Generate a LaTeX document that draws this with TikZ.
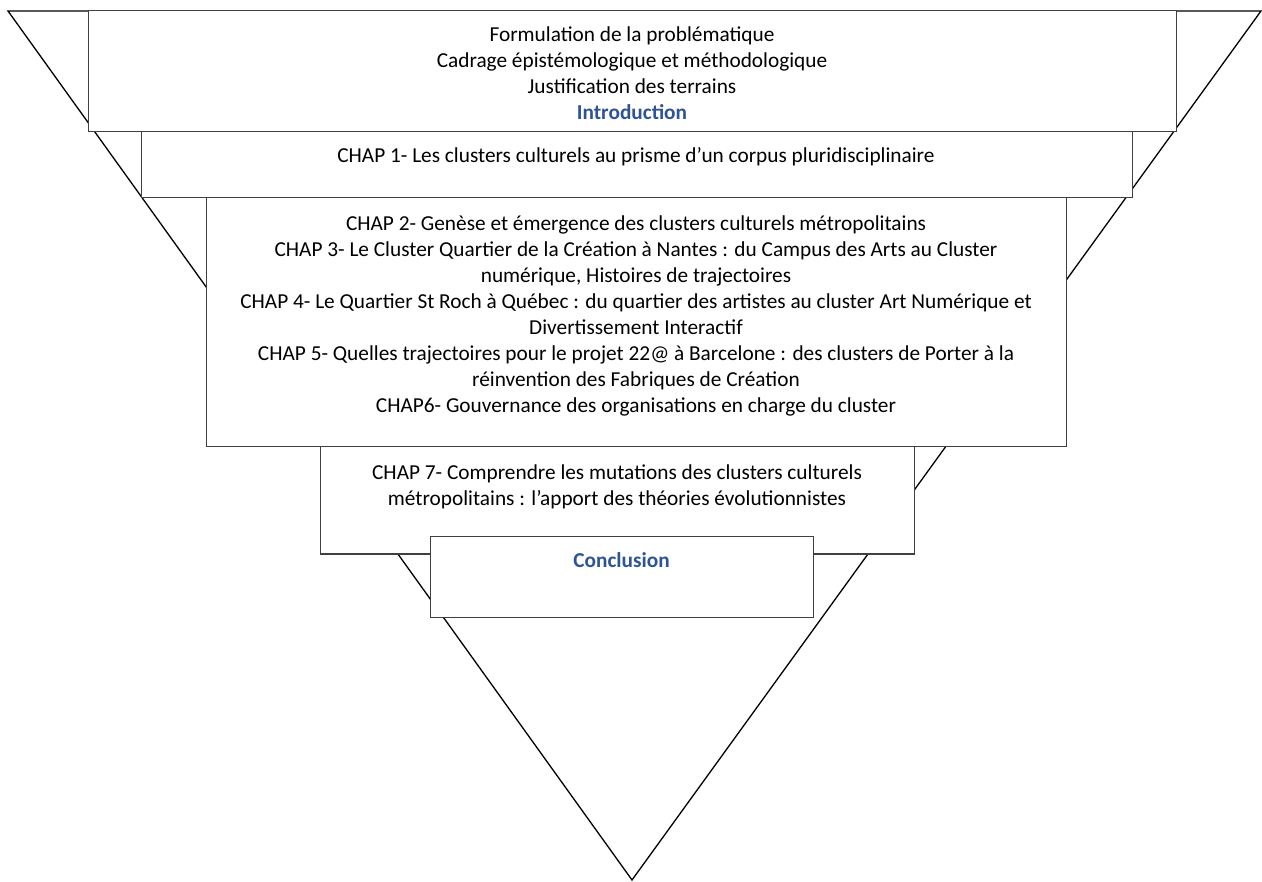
\documentclass[tikz,border=0pt]{standalone}
\usepackage{fontspec}
\setmainfont{Carlito}
\definecolor{headblue}{RGB}{47,84,150}
\begin{document}
\begin{tikzpicture}[x=1pt,y=-1pt,
  box/.style={draw=black!75, line width=1pt, fill=white},
  funnel/.style={draw=black, line width=1.3pt, line join=miter},
  txt/.style={align=center, inner sep=0pt, anchor=base, font=\fontsize{21.3}{26}\selectfont},
  head/.style={txt, font=\bfseries\fontsize{21.3}{26}\selectfont, text=headblue}]
\useasboundingbox (0,0) rectangle (1262,882);
\coordinate (tl) at (8,11);
\coordinate (tr) at (1261,11);
\coordinate (apex) at (632,880);
\draw[funnel] (tl) -- (tr) -- (apex) -- cycle;
\draw[box] (88,11) rectangle (1176,132);
\draw[box] (141,132) rectangle (1132,198);
\draw[box] (206,198) rectangle (1066,447);
\draw[box] (320,447) rectangle (914,554);
\draw[box] (430,537) rectangle (813,617);
% base anchor of a multi-line node = baseline of its last line
\node[txt] (intro) at (632,94) {Formulation de la problématique\\Cadrage épistémologique et méthodologique\\Justification des terrains};
\node[head] (introlabel) at (632,120) {Introduction};
\node[txt] (c1) at (636,163) {CHAP 1- Les clusters culturels au prisme d’un corpus pluridisciplinaire};
\node[txt] (c26) at (636,412.5) {CHAP 2- Genèse et émergence des clusters culturels métropolitains\\CHAP 3- Le Cluster Quartier de la Création à Nantes : du Campus des Arts au Cluster\\numérique, Histoires de trajectoires\\CHAP 4- Le Quartier St Roch à Québec : du quartier des artistes au cluster Art Numérique et\\Divertissement Interactif\\CHAP 5- Quelles trajectoires pour le projet 22@ à Barcelone : des clusters de Porter à la\\réinvention des Fabriques de Création\\CHAP6- Gouvernance des organisations en charge du cluster};
\node[txt] (c7) at (617,506) {CHAP 7- Comprendre les mutations des clusters culturels\\métropolitains : l’apport des théories évolutionnistes};
\node[head] (concl) at (621.5,568) {Conclusion};
\end{tikzpicture}
\end{document}
